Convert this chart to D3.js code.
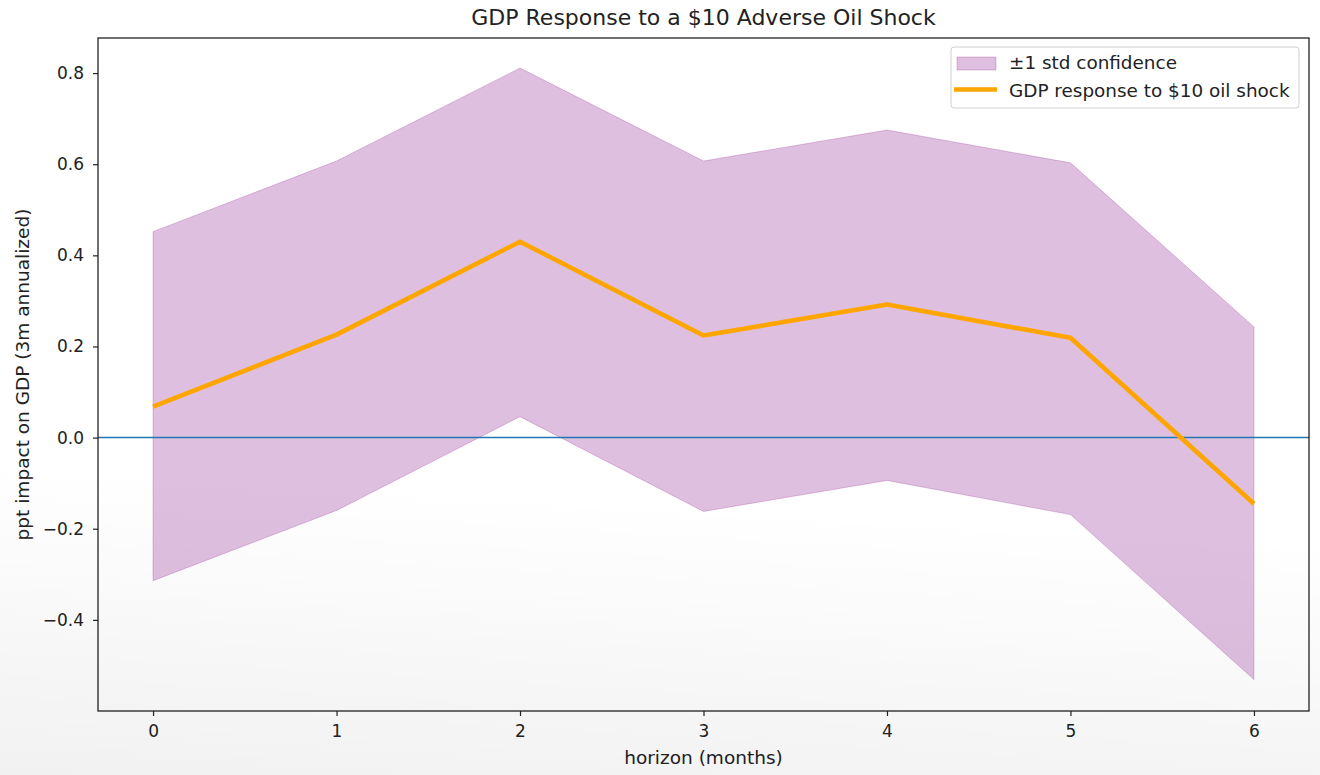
<!DOCTYPE html>
<html><head><meta charset="utf-8">
<script src="https://cdn.jsdelivr.net/npm/d3@7"></script>
<style>body{margin:0;background:#fff}svg{display:block}text{font-family:"DejaVu Sans",sans-serif;fill:#222}</style>
</head><body>
<script>
const horizons = [0, 1, 2, 3, 4, 5, 6];
const response = [0.068, 0.226, 0.430, 0.224, 0.292, 0.219, -0.145];
const upper = [0.452, 0.607, 0.811, 0.607, 0.675, 0.603, 0.243];
const lower = [-0.314, -0.160, 0.046, -0.162, -0.094, -0.169, -0.531];
const yTicks = [-0.4, -0.2, 0.0, 0.2, 0.4, 0.6, 0.8];
const title = "GDP Response to a $10 Adverse Oil Shock";

const W = 1320, H = 775;
const m = {l: 98, r: 1309, t: 38, b: 711};
const svg = d3.select("body").append("svg").attr("width", W).attr("height", H);
const defs = svg.append("defs");
const g1 = defs.append("linearGradient").attr("id","shade").attr("x1",0.1).attr("y1",0).attr("x2",0).attr("y2",1);
g1.append("stop").attr("offset","0.6").attr("stop-color","#000").attr("stop-opacity",0);
g1.append("stop").attr("offset","1").attr("stop-color","#000").attr("stop-opacity",0.055);

const x = d3.scaleLinear().domain([-0.3, 6.3]).range([m.l, m.r]);
const y = d3.scaleLinear().domain([-0.6, 0.877]).range([m.b, m.t]);

const data = horizons.map((h,i)=>({h, r:response[i], u:upper[i], lo:lower[i]}));

// band
svg.append("path").datum(data)
  .attr("d", d3.area().x(d=>x(d.h)).y0(d=>y(d.lo)).y1(d=>y(d.u)))
  .attr("fill","#800080").attr("fill-opacity",0.25)
  .attr("stroke","#800080").attr("stroke-opacity",0.22).attr("stroke-width",1);

// zero line
svg.append("line").attr("x1",m.l).attr("x2",m.r).attr("y1",y(0)).attr("y2",y(0))
  .attr("stroke","#1f77b4").attr("stroke-width",1.5);

// response line
svg.append("path").datum(data)
  .attr("d", d3.line().x(d=>x(d.h)).y(d=>y(d.r)))
  .attr("fill","none").attr("stroke","#FFA500").attr("stroke-width",4.6)
  .attr("stroke-linecap","butt").attr("stroke-linejoin","round");

// axes
const xa = svg.append("g").attr("transform",`translate(0,${m.b})`)
  .call(d3.axisBottom(x).tickValues(horizons).tickFormat(d3.format("d")).tickSize(5).tickPadding(9));
const ya = svg.append("g").attr("transform",`translate(${m.l},0)`)
  .call(d3.axisLeft(y).tickValues(yTicks).tickFormat(d=>d3.format(".1f")(d).replace("-","\u2212")).tickSize(5).tickPadding(9));
[xa,ya].forEach(a=>{
  a.select(".domain").remove();
  a.selectAll("line").attr("stroke","#222").attr("stroke-width",1.2);
  a.selectAll("text").style("font-family","DejaVu Sans").style("font-size","17px").attr("fill","#222");
});

// frame
svg.append("rect").attr("x",m.l).attr("y",m.t).attr("width",m.r-m.l).attr("height",m.b-m.t)
  .attr("fill","none").attr("stroke","#222").attr("stroke-width",1.3);

// labels
svg.append("text").attr("x",(m.l+m.r)/2).attr("y",25).attr("text-anchor","middle")
  .style("font-size","22px").text(title);
svg.append("text").attr("x",(m.l+m.r)/2).attr("y",764).attr("text-anchor","middle")
  .style("font-size","18.5px").text("horizon (months)");
svg.append("text").attr("transform",`translate(29,${(m.t+m.b)/2}) rotate(-90)`).attr("text-anchor","middle")
  .style("font-size","18.5px").text("ppt impact on GDP (3m annualized)");

// legend
const lg = svg.append("g");
lg.append("rect").attr("x",951).attr("y",47).attr("width",348).attr("height",61).attr("rx",3)
  .attr("fill","#fff").attr("fill-opacity",0.8).attr("stroke","#d0d0d0").attr("stroke-width",1);
lg.append("rect").attr("x",957).attr("y",57).attr("width",39).attr("height",13)
  .attr("fill","#800080").attr("fill-opacity",0.25).attr("stroke","#800080").attr("stroke-opacity",0.22);
lg.append("line").attr("x1",954).attr("x2",997).attr("y1",89.5).attr("y2",89.5)
  .attr("stroke","#FFA500").attr("stroke-width",4.6);
lg.append("text").attr("x",1009).attr("y",69).style("font-size","18.4px").text("\u00b11 std confidence");
lg.append("text").attr("x",1009).attr("y",96.5).style("font-size","18.4px").text("GDP response to $10 oil shock");

// subtle photo shading
svg.append("rect").attr("width",W).attr("height",H).attr("fill","url(#shade)").attr("pointer-events","none");
</script>
</body></html>
